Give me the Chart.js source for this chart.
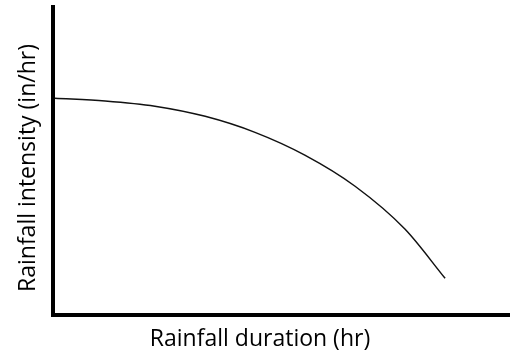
<!DOCTYPE html>
<html>
<head>
<meta charset="utf-8">
<script src="https://cdn.jsdelivr.net/npm/chart.js@4/dist/chart.umd.min.js"></script>
<style>
  html, body { margin: 0; padding: 0; background: #fff; }
  #wrap { width: 510px; height: 355px; }
</style>
</head>
<body>
<div id="wrap"><canvas id="c" width="510" height="355"></canvas></div>
<script>
// Data (arbitrary units, axes have no ticks)
const durations = [0.4, 11.4, 22.3, 33.3, 44.2, 55.1, 66.1, 77.0, 85.8];
const intensities = [70.4, 69.5, 67.8, 64.5, 59.3, 51.9, 41.8, 27.9, 11.9];
const xTitle = 'Rainfall duration (hr)';
const yTitle = 'Rainfall intensity (in/hr)';

const points = durations.map((d, i) => ({ x: d, y: intensities[i] }));
const FONT = '"Open Sans", sans-serif';

const titlePlugin = {
  id: 'axisTitles',
  afterDraw(chart) {
    const ctx = chart.ctx;
    ctx.save();
    ctx.fillStyle = '#000';
    ctx.font = '23px ' + FONT;
    ctx.textAlign = 'center';
    ctx.textBaseline = 'alphabetic';
    ctx.fillText(xTitle, 260, 346);
    ctx.translate(35, 168);
    ctx.rotate(-Math.PI / 2);
    ctx.fillText(yTitle, 0, 0);
    ctx.restore();
  }
};

new Chart(document.getElementById('c'), {
  type: 'line',
  data: {
    datasets: [{
      data: points,
      borderColor: '#111',
      borderWidth: 1.5,
      pointRadius: 0,
      fill: false,
      cubicInterpolationMode: 'monotone'
    }]
  },
  options: {
    responsive: false,
    animation: false,
    layout: { padding: { top: 7, right: 0, left: 0, bottom: 0 } },
    plugins: { legend: { display: false }, tooltip: { enabled: false } },
    scales: {
      x: {
        type: 'linear', min: 0, max: 100,
        grid: { display: false, drawTicks: false },
        border: { display: true, width: 4, color: '#000' },
        ticks: { display: false },
        afterFit(s) { s.height = 40; }
      },
      y: {
        type: 'linear', min: 0, max: 100,
        grid: { display: false, drawTicks: false },
        border: { display: true, width: 4, color: '#000' },
        ticks: { display: false },
        afterFit(s) { s.width = 53; }
      }
    }
  },
  plugins: [titlePlugin]
});
</script>
</body>
</html>
